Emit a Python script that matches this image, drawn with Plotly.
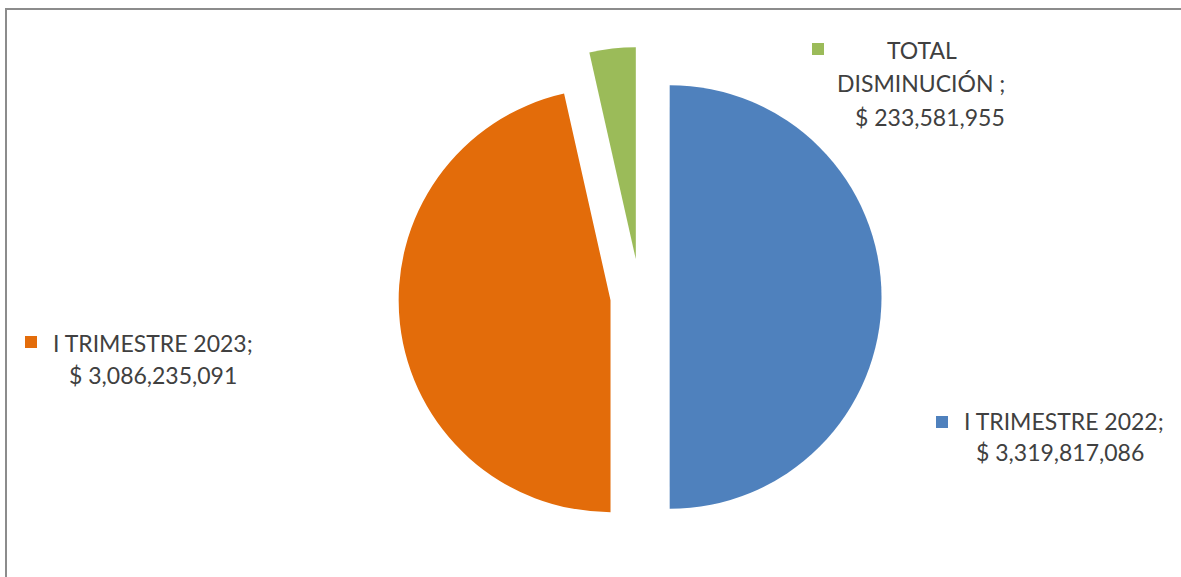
import plotly.graph_objects as go

labels = ["I TRIMESTRE 2022", "I TRIMESTRE 2023", "TOTAL DISMINUCIÓN"]
values = [3319817086, 3086235091, 233581955]
colors = ["#4F81BD", "#E36C0A", "#9BBB59"]
pulls = [0.14, 0.14, 0.18]

W, H = 1181, 577
cx, cy = 640, 297
half = 250

fig = go.Figure()
fig.add_trace(go.Pie(
    labels=labels, values=values, sort=False, direction="clockwise", rotation=0,
    marker=dict(colors=colors, line=dict(width=0)),
    pull=pulls, textinfo="none", hoverinfo="label+value", showlegend=False,
    domain=dict(x=[(cx - half) / W, (cx + half) / W],
                y=[(H - cy - half) / H, (H - cy + half) / H]),
))

def fmt(v):
    return f"$ {v:,}"

font = dict(family="Lato, Open Sans, sans-serif", size=23, color="#404040")

def px(x, y):
    return x / W, 1 - y / H

# label lines: (text, x-center px, y-center px)
lines = [
    (f"{labels[1]};", 153, 343),
    (fmt(values[1]), 153, 375),
    (f"{labels[0]};", 1064, 421),
    (fmt(values[0]), 1060, 452),
    ("TOTAL", 922, 50),
    ("DISMINUCIÓN ;", 921, 83),
    (fmt(values[2]), 930, 117),
]

annos = []
for t, lx, ly in lines:
    x, y = px(lx, ly)
    annos.append(dict(x=x, y=y, xref="paper", yref="paper", showarrow=False,
                      text=t, font=font, xanchor="center", yanchor="middle"))

# legend-key squares
squares = [(31, 342, colors[1]), (942, 422, colors[0]), (818, 49, colors[2])]
shapes = []
for sx, sy, c in squares:
    shapes.append(dict(type="rect", xref="paper", yref="paper",
                       x0=(sx - 6) / W, x1=(sx + 6) / W,
                       y0=1 - (sy + 6) / H, y1=1 - (sy - 6) / H,
                       fillcolor=c, line=dict(width=0)))

shapes.append(dict(type="rect", xref="paper", yref="paper",
                   x0=6 / W, x1=1.05, y0=-0.05, y1=1 - 9 / H,
                   line=dict(color="#8C8C8C", width=2), fillcolor="rgba(0,0,0,0)"))

fig.update_layout(
    width=W, height=H, margin=dict(l=0, r=0, t=0, b=0),
    paper_bgcolor="white", plot_bgcolor="white",
    annotations=annos, shapes=shapes,
)

fig.write_html("out.html", config={"displayModeBar": False},
               post_script="document.body.style.margin='0';document.body.style.overflow='hidden';")
